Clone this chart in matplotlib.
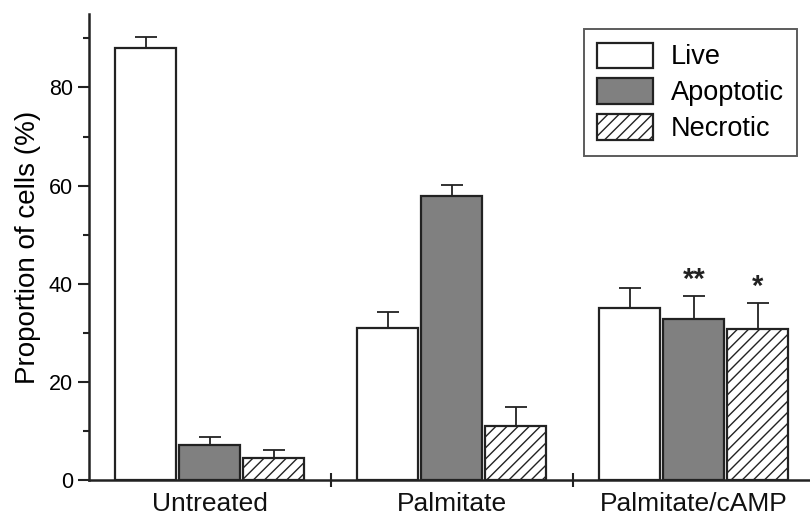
import matplotlib
matplotlib.use("Agg")
import matplotlib.pyplot as plt
import numpy as np

plt.rcParams['font.family'] = ['Liberation Sans', 'DejaVu Sans']
plt.rcParams['hatch.linewidth'] = 1.0

groups = ["Untreated", "Palmitate", "Palmitate/cAMP"]
series = ["Live", "Apoptotic", "Necrotic"]
live = [88.0, 31.0, 35.0]
live_err = [2.2, 3.3, 4.2]
apoptotic = [7.1, 57.8, 32.8]
apoptotic_err = [1.7, 2.4, 4.6]
necrotic = [4.4, 11.1, 30.8]
necrotic_err = [1.7, 3.7, 5.2]
annot = {(2, 1): "**", (2, 2): "*"}

fig = plt.figure(figsize=(8.1, 5.15), dpi=100)
ax = fig.add_axes([0.1099, 0.068, 0.8901, 0.905])

x = np.arange(len(groups))
w = 0.252
step = 0.264
vals = [live, apoptotic, necrotic]
errs = [live_err, apoptotic_err, necrotic_err]
faces = ['white', '#808080', 'white']
hatches = [None, None, '///']
for i in range(3):
    pos = x + (i - 1) * step
    ax.bar(pos, vals[i], width=w, color=faces[i], edgecolor='#222222',
           linewidth=1.6, hatch=hatches[i], label=series[i], zorder=2)
    ax.errorbar(pos, vals[i], yerr=[np.zeros(3), errs[i]], fmt='none',
                ecolor='#222222', elinewidth=1.3, capsize=8, capthick=1.3, zorder=3)

for (g, s), txt in annot.items():
    pos = x[g] + (s - 1) * step
    top = vals[s][g] + errs[s][g]
    ax.text(pos, top + 0.5, txt, ha='center', va='bottom', fontsize=21,
            fontweight='bold', color='#222222')

ax.set_xlim(-0.498, 2.48)
ax.set_ylim(0, 95)
ax.set_yticks([0, 20, 40, 60, 80])
ax.set_yticks([10, 30, 50, 70, 90], minor=True)
ax.set_xticks([0.5, 1.5])
ax.set_xticklabels([])
ax.tick_params(axis='x', direction='inout', length=10, width=1.5, color='#222222')
ax.tick_params(axis='y', which='major', direction='out', length=8, width=1.5,
               labelsize=15.5, color='#222222', pad=3.5)
ax.tick_params(axis='y', which='minor', direction='out', length=4.5, width=1.5, color='#222222')
for g, lab in zip(x, groups):
    ax.text(g, -2.5, lab, ha='center', va='top', fontsize=19,
            transform=ax.transData, color='#111111')

ax.spines['top'].set_visible(False)
ax.spines['right'].set_visible(False)
ax.spines['left'].set_linewidth(1.8)
ax.spines['bottom'].set_linewidth(1.8)
ax.spines['left'].set_color('#222222')
ax.spines['bottom'].set_color('#222222')

ax.set_ylabel("Proportion of cells (%)", fontsize=20, labelpad=6)

leg = ax.legend(loc='upper right', bbox_to_anchor=(797 / 810, 1 - 29 / 515),
                bbox_transform=fig.transFigure, borderaxespad=0, fontsize=19.5,
                frameon=True, fancybox=False, edgecolor='#333333',
                handlelength=2.05, handleheight=1.05, labelspacing=0.3,
                borderpad=0.5, handletextpad=0.65)
leg.get_frame().set_linewidth(1.4)

fig.savefig("out.png", dpi=100)
